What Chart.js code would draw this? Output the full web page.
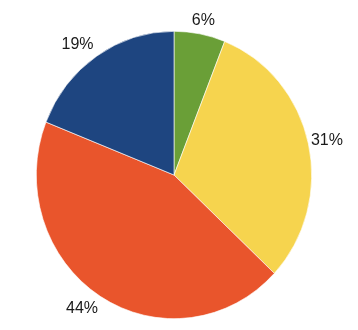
<!DOCTYPE html>
<html>
<head>
<meta charset="utf-8">
<script src="https://cdn.jsdelivr.net/npm/chart.js@4/dist/chart.umd.min.js"></script>
<style>
html,body{margin:0;padding:0;background:#fff;}
#wrap{width:358px;height:330px;position:relative;}
</style>
</head>
<body>
<div id="wrap"><canvas id="c" width="358" height="330"></canvas></div>
<script>
const categories = ["A", "B", "C", "D"];
const values = [6, 31, 44, 19];
const colors = ["#6A9F37", "#F6D44E", "#E9552C", "#1E4580"];

const yStretch = 144 / 138;

const ellipsePlugin = {
  id: 'ellipse',
  beforeDatasetsDraw(chart) {
    const ctx = chart.ctx;
    const a = chart.chartArea;
    const cx = (a.left + a.right) / 2, cy = (a.top + a.bottom) / 2;
    ctx.save();
    ctx.translate(cx, cy);
    ctx.scale(1, yStretch);
    ctx.translate(-cx, -cy);
  },
  afterDatasetsDraw(chart) {
    chart.ctx.restore();
  }
};

const labelPlugin = {
  id: 'outLabels',
  afterDraw(chart) {
    const ctx = chart.ctx;
    const meta = chart.getDatasetMeta(0);
    ctx.save();
    ctx.font = '16px "Liberation Sans", Arial, sans-serif';
    ctx.fillStyle = '#1a1a1a';
    ctx.textAlign = 'center';
    ctx.textBaseline = 'middle';
    meta.data.forEach((arc, i) => {
      const p = arc.getProps(['x', 'y', 'startAngle', 'endAngle', 'outerRadius'], true);
      const mid = (p.startAngle + p.endAngle) / 2;
      const dx = Math.cos(mid), dy = Math.sin(mid);
      let x = p.x + dx * (p.outerRadius + 19);
      let y = p.y + dy * (p.outerRadius * yStretch + 14);
      if (dx < 0) x += dx * 15;
      ctx.fillText(values[i] + '%', x, y);
    });
    ctx.restore();
  }
};

new Chart(document.getElementById('c'), {
  type: 'pie',
  data: {
    labels: categories,
    datasets: [{
      data: values,
      backgroundColor: colors,
      borderColor: '#ffffff',
      borderWidth: 0.6
    }]
  },
  options: {
    responsive: false,
    maintainAspectRatio: false,
    animation: false,
    layout: { padding: { left: 36, right: 46, top: 37, bottom: 17 } },
    plugins: {
      legend: { display: false },
      tooltip: { enabled: false }
    }
  },
  plugins: [ellipsePlugin, labelPlugin]
});
</script>
</body>
</html>
